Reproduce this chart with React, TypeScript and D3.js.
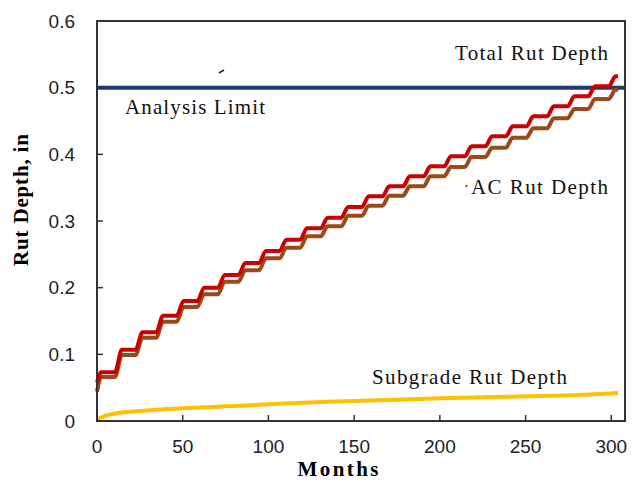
import React, { useRef, useEffect } from "react";
import * as d3 from "d3";

// months at which each yearly rutting step happens
const riseMonths = [
  12, 24, 36, 48, 60, 72, 84, 96, 108, 120, 132, 144, 156, 168, 180, 192, 204,
  216, 228, 240, 252, 264, 276, 288, 300,
];

// plateau level of each year (first = months 0-11)
const totalRut = [
  0.073, 0.107, 0.133, 0.158, 0.18, 0.2, 0.219, 0.237, 0.255, 0.272, 0.289,
  0.305, 0.321, 0.337, 0.352, 0.367, 0.382, 0.397, 0.412, 0.427, 0.442, 0.457,
  0.472, 0.487, 0.502, 0.517,
];
const acRut = [
  0.066, 0.099, 0.125, 0.149, 0.171, 0.19, 0.209, 0.226, 0.244, 0.26, 0.277,
  0.292, 0.308, 0.323, 0.338, 0.352, 0.367, 0.381, 0.396, 0.41, 0.425, 0.439,
  0.454, 0.468, 0.483, 0.497,
];
const totalStart = 0.058;
const acStart = 0.044;
const lastMonth = 304;

const subgradeMonths = [0, 3, 10, 25, 50, 75, 100, 135, 175, 200, 250, 280, 304];
const subgradeRut = [
  0.002, 0.006, 0.011, 0.015, 0.019, 0.022, 0.025, 0.029, 0.032, 0.034, 0.037,
  0.039, 0.042,
];

const analysisLimit = 0.5;

const xTicks = [0, 50, 100, 150, 200, 250, 300];
const yTicks = [0, 0.1, 0.2, 0.3, 0.4, 0.5, 0.6];

const WIDTH = 633;
const HEIGHT = 487;

// turn plateau levels into corner points of the stair line
const stairPoints = (start, levels) => {
  const pts = [[0, start], [2.5, levels[0]]];
  riseMonths.forEach((m, i) => {
    pts.push([m - 1.5, levels[i]]);
    pts.push([m + 2.5, levels[i + 1]]);
  });
  pts.push([lastMonth, levels[levels.length - 1]]);
  return pts;
};

const App = () => {
  const svgRef = useRef(null);

  useEffect(() => {
    const svg = d3.select(svgRef.current);
    svg.selectAll("*").remove();

    const x = d3.scaleLinear().domain([0, 308]).range([97, 625]);
    const y = d3.scaleLinear().domain([0, 0.6]).range([421, 21]);

    svg.append("rect").attr("width", WIDTH).attr("height", HEIGHT).attr("fill", "#fff");

    const line = d3
      .line()
      .x((d) => x(d[0]))
      .y((d) => y(d[1]))
      .curve(d3.curveMonotoneX);

    // analysis limit
    svg
      .append("line")
      .attr("x1", x(0))
      .attr("x2", x(308))
      .attr("y1", y(analysisLimit))
      .attr("y2", y(analysisLimit))
      .attr("stroke", "#1c3a78")
      .attr("stroke-width", 4);

    // subgrade
    svg
      .append("path")
      .attr("d", line(subgradeMonths.map((m, i) => [m, subgradeRut[i]])))
      .attr("fill", "none")
      .attr("stroke", "#ffc000")
      .attr("stroke-width", 4);

    svg
      .append("path")
      .attr("d", line(stairPoints(acStart, acRut)))
      .attr("fill", "none")
      .attr("stroke", "#9a4a16")
      .attr("stroke-width", 4);

    svg
      .append("path")
      .attr("d", line(stairPoints(totalStart, totalRut)))
      .attr("fill", "none")
      .attr("stroke", "#cc0000")
      .attr("stroke-width", 4);

    // frame
    svg
      .append("rect")
      .attr("x", 97)
      .attr("y", 21)
      .attr("width", 528)
      .attr("height", 400)
      .attr("fill", "none")
      .attr("stroke", "#333")
      .attr("stroke-width", 2);

    // ticks (inside)
    const axisFont = "'Liberation Sans', Arial, sans-serif";
    yTicks.forEach((t) => {
      svg
        .append("line")
        .attr("x1", 97)
        .attr("x2", 103)
        .attr("y1", y(t))
        .attr("y2", y(t))
        .attr("stroke", "#333")
        .attr("stroke-width", 1.5);
      svg
        .append("text")
        .attr("x", 75)
        .attr("y", y(t))
        .attr("dy", "0.35em")
        .attr("text-anchor", "end")
        .attr("font-family", axisFont)
        .attr("font-size", 19)
        .attr("fill", "#222")
        .text(t === 0 ? "0" : t.toFixed(1));
    });
    xTicks.forEach((t) => {
      svg
        .append("line")
        .attr("x1", x(t))
        .attr("x2", x(t))
        .attr("y1", 421)
        .attr("y2", 415)
        .attr("stroke", "#333")
        .attr("stroke-width", 1.5);
      svg
        .append("text")
        .attr("x", x(t))
        .attr("y", 453)
        .attr("text-anchor", "middle")
        .attr("font-family", axisFont)
        .attr("font-size", 19)
        .attr("fill", "#222")
        .text(t);
    });

    const serif = "'Liberation Serif', 'Times New Roman', serif";
    // axis titles
    svg
      .append("text")
      .attr("x", 338)
      .attr("y", 476)
      .attr("text-anchor", "middle")
      .attr("font-family", serif)
      .attr("font-weight", "bold")
      .attr("font-size", 21)
      .attr("textLength", 81)
      .attr("lengthAdjust", "spacing")
      .text("Months");

    svg
      .append("text")
      .attr("transform", "translate(28,200) rotate(-90)")
      .attr("text-anchor", "middle")
      .attr("font-family", serif)
      .attr("font-weight", "bold")
      .attr("font-size", 21)
      .attr("textLength", 132)
      .attr("lengthAdjust", "spacing")
      .text("Rut Depth, in");

    // series labels
    const labels = [
      { text: "Total Rut Depth", x: 455, y: 60, len: 153 },
      { text: "Analysis Limit", x: 125, y: 114, len: 140 },
      { text: "AC Rut Depth", x: 471, y: 194, len: 137 },
      { text: "Subgrade Rut Depth", x: 372, y: 384, len: 195 },
    ];
    labels.forEach((l) => {
      svg
        .append("text")
        .attr("x", l.x)
        .attr("y", l.y)
        .attr("font-family", serif)
        .attr("font-size", 21)
        .attr("fill", "#111")
        .attr("textLength", l.len)
        .attr("lengthAdjust", "spacing")
        .text(l.text);
    });

    // stray marks from the original figure
    svg
      .append("path")
      .attr("d", "M219,73 L224,70")
      .attr("stroke", "#222")
      .attr("stroke-width", 1.5);
    svg
      .append("circle")
      .attr("cx", 466.5)
      .attr("cy", 186)
      .attr("r", 1.2)
      .attr("fill", "#9a4a16");
  }, []);

  return (
    <svg
      ref={svgRef}
      width={WIDTH}
      height={HEIGHT}
      style={{ position: "absolute", left: 0, top: 0, display: "block" }}
    ></svg>
  );
};

export default App;
